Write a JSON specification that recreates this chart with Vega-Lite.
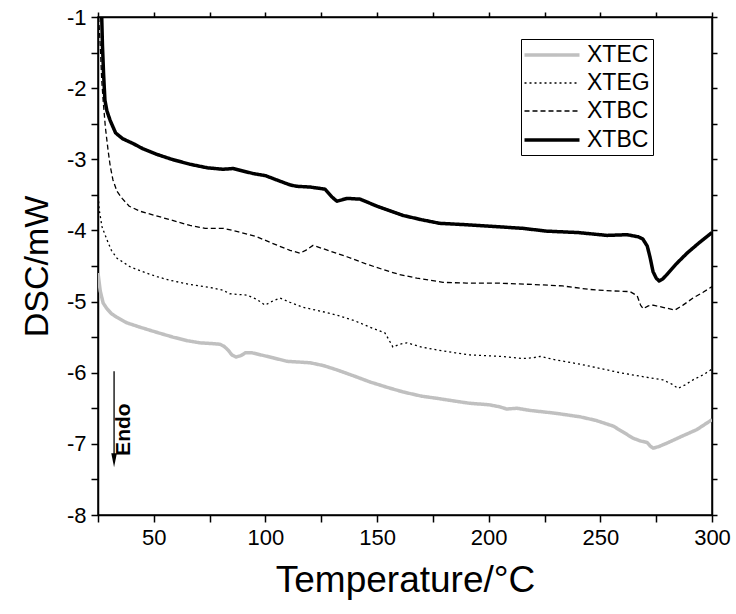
{
  "$schema": "https://vega.github.io/schema/vega-lite/v6.json",
  "width": 614,
  "height": 498,
  "autosize": {"type": "none"},
  "padding": {"left": 98, "top": 17, "right": 24, "bottom": 99},
  "background": "white",
  "config": {
    "font": "Liberation Sans",
    "view": {"stroke": "black", "strokeWidth": 1.5},
    "axis": {"grid": false, "domainColor": "black", "domainWidth": 1.5, "tickColor": "black", "tickWidth": 1.5, "labelColor": "black", "titleColor": "black", "labelFont": "Liberation Sans", "titleFont": "Liberation Sans", "titleFontWeight": "normal"}
  },
  "datasets": {
    "curves": [
      {"series": "XTBC (solid)", "t": 26.5, "dsc": -0.8}, {"series": "XTBC (solid)", "t": 27.0, "dsc": -1.4}, {"series": "XTBC (solid)", "t": 27.5, "dsc": -1.8}, {"series": "XTBC (solid)", "t": 28.1, "dsc": -2.17}, {"series": "XTBC (solid)", "t": 29, "dsc": -2.32}, {"series": "XTBC (solid)", "t": 30.4, "dsc": -2.45}, {"series": "XTBC (solid)", "t": 32.9, "dsc": -2.63}, {"series": "XTBC (solid)", "t": 36, "dsc": -2.71}, {"series": "XTBC (solid)", "t": 40.8, "dsc": -2.78}, {"series": "XTBC (solid)", "t": 45, "dsc": -2.85}, {"series": "XTBC (solid)", "t": 51.3, "dsc": -2.93}, {"series": "XTBC (solid)", "t": 58, "dsc": -3.0}, {"series": "XTBC (solid)", "t": 66.2, "dsc": -3.07}, {"series": "XTBC (solid)", "t": 74, "dsc": -3.12}, {"series": "XTBC (solid)", "t": 81, "dsc": -3.14}, {"series": "XTBC (solid)", "t": 85.5, "dsc": -3.13}, {"series": "XTBC (solid)", "t": 94.4, "dsc": -3.2}, {"series": "XTBC (solid)", "t": 100, "dsc": -3.23}, {"series": "XTBC (solid)", "t": 105, "dsc": -3.29}, {"series": "XTBC (solid)", "t": 111, "dsc": -3.36}, {"series": "XTBC (solid)", "t": 114, "dsc": -3.38}, {"series": "XTBC (solid)", "t": 120, "dsc": -3.39}, {"series": "XTBC (solid)", "t": 126.7, "dsc": -3.42}, {"series": "XTBC (solid)", "t": 129.8, "dsc": -3.53}, {"series": "XTBC (solid)", "t": 132, "dsc": -3.59}, {"series": "XTBC (solid)", "t": 136.5, "dsc": -3.55}, {"series": "XTBC (solid)", "t": 142.4, "dsc": -3.56}, {"series": "XTBC (solid)", "t": 150, "dsc": -3.66}, {"series": "XTBC (solid)", "t": 161.7, "dsc": -3.79}, {"series": "XTBC (solid)", "t": 170, "dsc": -3.85}, {"series": "XTBC (solid)", "t": 178, "dsc": -3.9}, {"series": "XTBC (solid)", "t": 190, "dsc": -3.92}, {"series": "XTBC (solid)", "t": 205, "dsc": -3.95}, {"series": "XTBC (solid)", "t": 215, "dsc": -3.97}, {"series": "XTBC (solid)", "t": 226, "dsc": -4.01}, {"series": "XTBC (solid)", "t": 240, "dsc": -4.03}, {"series": "XTBC (solid)", "t": 253, "dsc": -4.07}, {"series": "XTBC (solid)", "t": 262, "dsc": -4.06}, {"series": "XTBC (solid)", "t": 267, "dsc": -4.09}, {"series": "XTBC (solid)", "t": 269, "dsc": -4.12}, {"series": "XTBC (solid)", "t": 271, "dsc": -4.22}, {"series": "XTBC (solid)", "t": 272.2, "dsc": -4.37}, {"series": "XTBC (solid)", "t": 273.6, "dsc": -4.58}, {"series": "XTBC (solid)", "t": 275, "dsc": -4.67}, {"series": "XTBC (solid)", "t": 276.3, "dsc": -4.71}, {"series": "XTBC (solid)", "t": 278, "dsc": -4.68}, {"series": "XTBC (solid)", "t": 279.8, "dsc": -4.62}, {"series": "XTBC (solid)", "t": 284, "dsc": -4.47}, {"series": "XTBC (solid)", "t": 288.8, "dsc": -4.32}, {"series": "XTBC (solid)", "t": 294, "dsc": -4.18}, {"series": "XTBC (solid)", "t": 300, "dsc": -4.03},

      {"series": "XTBC (dashed)", "t": 25.3, "dsc": -1.0}, {"series": "XTBC (dashed)", "t": 26, "dsc": -1.4}, {"series": "XTBC (dashed)", "t": 26.7, "dsc": -1.9}, {"series": "XTBC (dashed)", "t": 27.3, "dsc": -2.17}, {"series": "XTBC (dashed)", "t": 28.3, "dsc": -2.55}, {"series": "XTBC (dashed)", "t": 29.5, "dsc": -2.87}, {"series": "XTBC (dashed)", "t": 30.5, "dsc": -3.1}, {"series": "XTBC (dashed)", "t": 31.7, "dsc": -3.29}, {"series": "XTBC (dashed)", "t": 33.5, "dsc": -3.45}, {"series": "XTBC (dashed)", "t": 35.8, "dsc": -3.55}, {"series": "XTBC (dashed)", "t": 39, "dsc": -3.66}, {"series": "XTBC (dashed)", "t": 43.8, "dsc": -3.73}, {"series": "XTBC (dashed)", "t": 54, "dsc": -3.82}, {"series": "XTBC (dashed)", "t": 66.2, "dsc": -3.93}, {"series": "XTBC (dashed)", "t": 73, "dsc": -3.97}, {"series": "XTBC (dashed)", "t": 81, "dsc": -3.97}, {"series": "XTBC (dashed)", "t": 88, "dsc": -4.02}, {"series": "XTBC (dashed)", "t": 96.2, "dsc": -4.09}, {"series": "XTBC (dashed)", "t": 103, "dsc": -4.18}, {"series": "XTBC (dashed)", "t": 111, "dsc": -4.28}, {"series": "XTBC (dashed)", "t": 115.5, "dsc": -4.32}, {"series": "XTBC (dashed)", "t": 118, "dsc": -4.28}, {"series": "XTBC (dashed)", "t": 121.3, "dsc": -4.21}, {"series": "XTBC (dashed)", "t": 128, "dsc": -4.28}, {"series": "XTBC (dashed)", "t": 136.5, "dsc": -4.37}, {"series": "XTBC (dashed)", "t": 145, "dsc": -4.47}, {"series": "XTBC (dashed)", "t": 152.7, "dsc": -4.55}, {"series": "XTBC (dashed)", "t": 160, "dsc": -4.62}, {"series": "XTBC (dashed)", "t": 167.8, "dsc": -4.67}, {"series": "XTBC (dashed)", "t": 179.5, "dsc": -4.73}, {"series": "XTBC (dashed)", "t": 190, "dsc": -4.74}, {"series": "XTBC (dashed)", "t": 203.7, "dsc": -4.74}, {"series": "XTBC (dashed)", "t": 220, "dsc": -4.76}, {"series": "XTBC (dashed)", "t": 233, "dsc": -4.78}, {"series": "XTBC (dashed)", "t": 245.4, "dsc": -4.83}, {"series": "XTBC (dashed)", "t": 255, "dsc": -4.85}, {"series": "XTBC (dashed)", "t": 263.3, "dsc": -4.86}, {"series": "XTBC (dashed)", "t": 266.5, "dsc": -4.92}, {"series": "XTBC (dashed)", "t": 268, "dsc": -5.05}, {"series": "XTBC (dashed)", "t": 269.2, "dsc": -5.1}, {"series": "XTBC (dashed)", "t": 271.5, "dsc": -5.06}, {"series": "XTBC (dashed)", "t": 273.6, "dsc": -5.05}, {"series": "XTBC (dashed)", "t": 278, "dsc": -5.08}, {"series": "XTBC (dashed)", "t": 283.4, "dsc": -5.12}, {"series": "XTBC (dashed)", "t": 287, "dsc": -5.05}, {"series": "XTBC (dashed)", "t": 291.5, "dsc": -4.95}, {"series": "XTBC (dashed)", "t": 296, "dsc": -4.87}, {"series": "XTBC (dashed)", "t": 300, "dsc": -4.79},

      {"series": "XTEG", "t": 25, "dsc": -3.45}, {"series": "XTEG", "t": 25.5, "dsc": -3.7}, {"series": "XTEG", "t": 26.8, "dsc": -3.95}, {"series": "XTEG", "t": 29, "dsc": -4.13}, {"series": "XTEG", "t": 31, "dsc": -4.28}, {"series": "XTEG", "t": 33.5, "dsc": -4.39}, {"series": "XTEG", "t": 39.3, "dsc": -4.51}, {"series": "XTEG", "t": 45, "dsc": -4.58}, {"series": "XTEG", "t": 51.4, "dsc": -4.65}, {"series": "XTEG", "t": 57.2, "dsc": -4.7}, {"series": "XTEG", "t": 66.2, "dsc": -4.76}, {"series": "XTEG", "t": 75, "dsc": -4.8}, {"series": "XTEG", "t": 81, "dsc": -4.84}, {"series": "XTEG", "t": 84, "dsc": -4.89}, {"series": "XTEG", "t": 91.7, "dsc": -4.91}, {"series": "XTEG", "t": 96.2, "dsc": -4.97}, {"series": "XTEG", "t": 99.8, "dsc": -5.05}, {"series": "XTEG", "t": 103.4, "dsc": -4.99}, {"series": "XTEG", "t": 106.5, "dsc": -4.95}, {"series": "XTEG", "t": 111, "dsc": -5.01}, {"series": "XTEG", "t": 116.8, "dsc": -5.08}, {"series": "XTEG", "t": 124, "dsc": -5.13}, {"series": "XTEG", "t": 132, "dsc": -5.19}, {"series": "XTEG", "t": 140, "dsc": -5.27}, {"series": "XTEG", "t": 146.8, "dsc": -5.36}, {"series": "XTEG", "t": 153.5, "dsc": -5.44}, {"series": "XTEG", "t": 155.5, "dsc": -5.55}, {"series": "XTEG", "t": 157.1, "dsc": -5.64}, {"series": "XTEG", "t": 160, "dsc": -5.6}, {"series": "XTEG", "t": 163.4, "dsc": -5.58}, {"series": "XTEG", "t": 170, "dsc": -5.64}, {"series": "XTEG", "t": 176.8, "dsc": -5.68}, {"series": "XTEG", "t": 185, "dsc": -5.72}, {"series": "XTEG", "t": 191.6, "dsc": -5.75}, {"series": "XTEG", "t": 205, "dsc": -5.77}, {"series": "XTEG", "t": 215.4, "dsc": -5.8}, {"series": "XTEG", "t": 220, "dsc": -5.79}, {"series": "XTEG", "t": 223, "dsc": -5.77}, {"series": "XTEG", "t": 230, "dsc": -5.82}, {"series": "XTEG", "t": 240.9, "dsc": -5.88}, {"series": "XTEG", "t": 250, "dsc": -5.94}, {"series": "XTEG", "t": 258.8, "dsc": -6.0}, {"series": "XTEG", "t": 268, "dsc": -6.05}, {"series": "XTEG", "t": 278, "dsc": -6.1}, {"series": "XTEG", "t": 282, "dsc": -6.16}, {"series": "XTEG", "t": 284.8, "dsc": -6.22}, {"series": "XTEG", "t": 288, "dsc": -6.17}, {"series": "XTEG", "t": 291.5, "dsc": -6.1}, {"series": "XTEG", "t": 296, "dsc": -6.03}, {"series": "XTEG", "t": 300, "dsc": -5.95},

      {"series": "XTEC", "t": 25, "dsc": -4.6}, {"series": "XTEC", "t": 26, "dsc": -4.85}, {"series": "XTEC", "t": 27.3, "dsc": -5.02}, {"series": "XTEC", "t": 29, "dsc": -5.1}, {"series": "XTEC", "t": 31, "dsc": -5.17}, {"series": "XTEC", "t": 33.4, "dsc": -5.22}, {"series": "XTEC", "t": 38, "dsc": -5.3}, {"series": "XTEC", "t": 43.8, "dsc": -5.36}, {"series": "XTEC", "t": 50, "dsc": -5.42}, {"series": "XTEC", "t": 58.6, "dsc": -5.5}, {"series": "XTEC", "t": 65, "dsc": -5.55}, {"series": "XTEC", "t": 70.7, "dsc": -5.58}, {"series": "XTEC", "t": 76, "dsc": -5.59}, {"series": "XTEC", "t": 79.6, "dsc": -5.6}, {"series": "XTEC", "t": 81.5, "dsc": -5.63}, {"series": "XTEC", "t": 83.2, "dsc": -5.68}, {"series": "XTEC", "t": 85, "dsc": -5.75}, {"series": "XTEC", "t": 86.8, "dsc": -5.78}, {"series": "XTEC", "t": 89, "dsc": -5.76}, {"series": "XTEC", "t": 91, "dsc": -5.72}, {"series": "XTEC", "t": 94, "dsc": -5.72}, {"series": "XTEC", "t": 98, "dsc": -5.75}, {"series": "XTEC", "t": 103.4, "dsc": -5.79}, {"series": "XTEC", "t": 109.6, "dsc": -5.84}, {"series": "XTEC", "t": 115, "dsc": -5.85}, {"series": "XTEC", "t": 120, "dsc": -5.86}, {"series": "XTEC", "t": 126, "dsc": -5.9}, {"series": "XTEC", "t": 132, "dsc": -5.96}, {"series": "XTEC", "t": 140, "dsc": -6.05}, {"series": "XTEC", "t": 146.8, "dsc": -6.13}, {"series": "XTEC", "t": 155, "dsc": -6.21}, {"series": "XTEC", "t": 161.6, "dsc": -6.27}, {"series": "XTEC", "t": 170, "dsc": -6.33}, {"series": "XTEC", "t": 176.8, "dsc": -6.36}, {"series": "XTEC", "t": 185, "dsc": -6.4}, {"series": "XTEC", "t": 191.6, "dsc": -6.43}, {"series": "XTEC", "t": 200, "dsc": -6.45}, {"series": "XTEC", "t": 205, "dsc": -6.48}, {"series": "XTEC", "t": 208, "dsc": -6.51}, {"series": "XTEC", "t": 212.7, "dsc": -6.5}, {"series": "XTEC", "t": 218.5, "dsc": -6.53}, {"series": "XTEC", "t": 230, "dsc": -6.57}, {"series": "XTEC", "t": 240.9, "dsc": -6.62}, {"series": "XTEC", "t": 248, "dsc": -6.67}, {"series": "XTEC", "t": 255.7, "dsc": -6.75}, {"series": "XTEC", "t": 260, "dsc": -6.83}, {"series": "XTEC", "t": 264.6, "dsc": -6.92}, {"series": "XTEC", "t": 268, "dsc": -6.96}, {"series": "XTEC", "t": 270.9, "dsc": -6.98}, {"series": "XTEC", "t": 272.3, "dsc": -7.03}, {"series": "XTEC", "t": 273.6, "dsc": -7.06}, {"series": "XTEC", "t": 276, "dsc": -7.04}, {"series": "XTEC", "t": 279.8, "dsc": -6.99}, {"series": "XTEC", "t": 286, "dsc": -6.9}, {"series": "XTEC", "t": 293.2, "dsc": -6.8}, {"series": "XTEC", "t": 300, "dsc": -6.66}
    ],
    "arrow": [
      {"t": 32.2, "y1": -5.98, "y2": -7.2}
    ],
    "head": [
      {"t": 32.2, "dsc": -7.23}
    ],
    "label": [
      {"t": 36.6, "dsc": -6.8, "text": "Endo"}
    ]
  },
  "resolve": {"axis": {"x": "independent", "y": "independent"}},
  "layer": [
    {
      "data": {"name": "curves"},
      "mark": {"type": "line", "clip": true, "strokeJoin": "round", "strokeCap": "butt"},
      "encoding": {
        "x": {"field": "t", "type": "quantitative", "scale": {"domain": [25, 300], "nice": false, "zero": false},
          "axis": {"orient": "bottom", "title": "Temperature/°C", "titleFontSize": 37, "titlePadding": 14, "values": [25, 50, 75, 100, 125, 150, 175, 200, 225, 250, 275, 300], "labelExpr": "datum.value % 50 == 0 ? toString(datum.value) : ''", "labelFontSize": 22, "tickSize": 7, "labelPadding": 5, "labelFlush": false, "labelOverlap": false}},
        "y": {"field": "dsc", "type": "quantitative", "scale": {"domain": [-8, -1], "nice": false, "zero": false},
          "axis": {"orient": "left", "title": "DSC/mW", "titleFontSize": 34, "titlePadding": 12, "values": [-8, -7.5, -7, -6.5, -6, -5.5, -5, -4.5, -4, -3.5, -3, -2.5, -2, -1.5, -1], "labelExpr": "datum.value % 1 == 0 ? toString(datum.value) : ''", "labelFontSize": 22, "tickSize": 7, "labelPadding": 5, "labelFlush": false, "labelOverlap": false}},
        "color": {"field": "series", "type": "nominal",
          "scale": {"domain": ["XTEC", "XTEG", "XTBC (dashed)", "XTBC (solid)"], "range": ["#c0c0c0", "#000000", "#000000", "#000000"]},
          "legend": {"title": null, "orient": "none", "legendX": 423, "legendY": 22, "labelExpr": "split(datum.label, ' ')[0]", "labelFontSize": 23, "labelFont": "Liberation Sans", "labelColor": "black", "symbolType": "M -2.5 0 H 2.5", "symbolSize": 484, "symbolOffset": 15, "rowPadding": 4, "strokeColor": "black", "fillColor": "white", "padding": 3, "labelOffset": 22}},
        "strokeDash": {"field": "series", "type": "nominal",
          "scale": {"domain": ["XTEC", "XTEG", "XTBC (dashed)", "XTBC (solid)"], "range": [[1, 0], [2, 3], [5, 3], [1, 0]]}},
        "strokeWidth": {"field": "series", "type": "nominal",
          "scale": {"type": "ordinal", "domain": ["XTEC", "XTEG", "XTBC (dashed)", "XTBC (solid)"], "range": [3.5, 1.3, 1.3, 3.5]}}
      }
    },
    {
      "data": {"name": "arrow"},
      "mark": {"type": "rule", "color": "black", "strokeWidth": 1.3},
      "encoding": {
        "x": {"field": "t", "type": "quantitative", "axis": {"orient": "top", "title": null, "labels": false, "values": [25, 50, 75, 100, 125, 150, 175, 200, 225, 250, 275, 300], "tickSize": 5}},
        "y": {"field": "y1", "type": "quantitative", "axis": {"orient": "right", "title": null, "labels": false, "values": [-8, -7.5, -7, -6.5, -6, -5.5, -5, -4.5, -4, -3.5, -3, -2.5, -2, -1.5, -1], "tickSize": 5}},
        "y2": {"field": "y2"}
      }
    },
    {
      "data": {"name": "head"},
      "mark": {"type": "point", "filled": true, "color": "black", "opacity": 1, "shape": "M -0.4 -1 L 0.4 -1 L 0 1 Z", "size": 196},
      "encoding": {
        "x": {"field": "t", "type": "quantitative", "axis": null},
        "y": {"field": "dsc", "type": "quantitative", "axis": null}
      }
    },
    {
      "data": {"name": "label"},
      "mark": {"type": "text", "angle": 270, "fontSize": 21, "fontWeight": "bold", "font": "Liberation Sans", "align": "center", "baseline": "middle", "color": "black"},
      "encoding": {
        "x": {"field": "t", "type": "quantitative", "axis": null},
        "y": {"field": "dsc", "type": "quantitative", "axis": null},
        "text": {"field": "text"}
      }
    }
  ]
}
